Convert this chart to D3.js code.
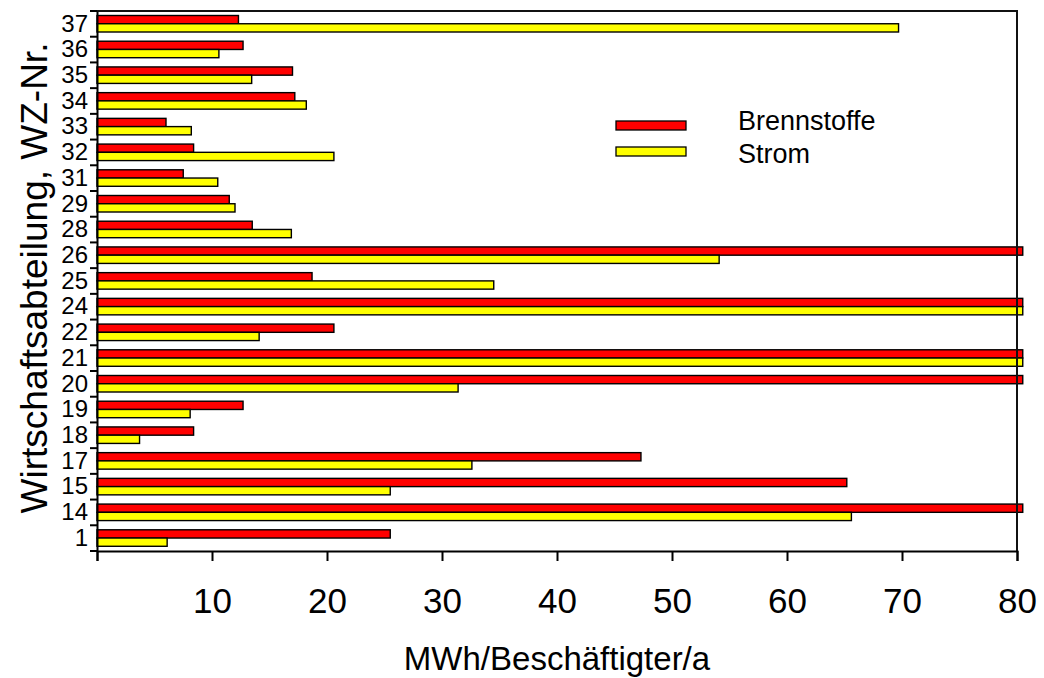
<!DOCTYPE html>
<html>
	<head>
		<meta charset="utf-8">
		<title>Energieverbrauch je Beschäftigten</title>
    <style>
      body{ margin:0; background:#fff; }
      svg{ display:block; font-family:"Liberation Sans", Arial, sans-serif; }
    </style>
	</head>
	<body>
    <script src="https://cdn.jsdelivr.net/npm/d3@7/dist/d3.min.js"></script>
    <script>
      //WZ-Nr. von unten nach oben
      var categories = ['1','14','15','17','18','19','20','21','22','24','25','26','28','29','31','32','33','34','35','36','37'];
      //Werte über 80 laufen über den Rahmen hinaus (abgeschnitten)
      var OFF = 80.5;
      var brennstoffe = [25.5, OFF, 65.2, 47.3, 8.4, 12.7, OFF, OFF, 20.6, OFF, 18.7, OFF, 13.5, 11.5, 7.5, 8.4, 6.0, 17.2, 17.0, 12.7, 12.3];
      var strom       = [6.1, 65.6, 25.5, 32.6, 3.7, 8.1, 31.4, OFF, 14.1, OFF, 34.5, 54.1, 16.9, 12.0, 10.5, 20.6, 8.2, 18.2, 13.45, 10.6, 69.7];
      var series = ['Brennstoffe', 'Strom'];
      var colors = ['#ff0000', '#ffff00'];
      var xTicks = [0, 10, 20, 30, 40, 50, 60, 70, 80];

      var W = 1044, H = 678;
      //Plotbereich (nicht "top" nennen, das ist window.top)
      var pLeft = 97, pRight = 1017, pTop = 11, pBottom = 551;

      var svg = d3.select('body').append('svg')
        .attr('width', W).attr('height', H);

      var x = d3.scaleLinear().domain([0, 80]).range([pLeft, pRight]);
      var y = d3.scaleBand().domain(categories.slice().reverse()).range([pTop, pBottom]);
      var ySub = d3.scaleBand().domain(series).range([4.5, 21]);

      //Balken
      var rows = categories.map(function(c, i){
        return {cat: c, vals: [brennstoffe[i], strom[i]]};
      });
      var g = svg.append('g');
      rows.forEach(function(r){
        series.forEach(function(s, j){
          g.append('rect')
            .attr('x', x(0))
            .attr('y', y(r.cat) + ySub(s))
            .attr('width', x(r.vals[j]) - x(0))
            .attr('height', ySub.bandwidth())
            .attr('fill', colors[j])
            .attr('stroke', '#000')
            .attr('stroke-width', 1.4);
        });
      });

      //Rahmen oben/rechts
      svg.append('path')
        .attr('d', 'M' + pLeft + ',' + pTop + 'H' + pRight + 'V' + pBottom)
        .attr('fill', 'none').attr('stroke', '#111').attr('stroke-width', 2);

      //x-Achse
      var xAxis = svg.append('g')
        .attr('transform', 'translate(0,' + pBottom + ')')
        .call(d3.axisBottom(x).tickValues(xTicks).tickSize(10).tickPadding(27)
          .tickFormat(function(d){ return d === 0 ? '' : d; }));
      xAxis.select('.domain').attr('stroke', '#000').attr('stroke-width', 2);
      xAxis.selectAll('.tick line').attr('stroke', '#000').attr('stroke-width', 2);
      xAxis.selectAll('text').attr('font-size', 35).attr('fill', '#000')
        .attr('font-family', '"Liberation Sans", Arial, sans-serif');

      //y-Achse
      var yAxis = svg.append('g')
        .attr('transform', 'translate(' + pLeft + ',0)')
        .call(d3.axisLeft(y).tickSize(0).tickPadding(9));
      yAxis.select('.domain').attr('stroke', '#000').attr('stroke-width', 2);
      yAxis.selectAll('text').attr('font-size', 24).attr('fill', '#000')
        .attr('font-family', '"Liberation Sans", Arial, sans-serif');
      //Striche an den Klassengrenzen
      var bounds = y.domain().map(function(c){ return y(c); }).concat([pBottom]);
      svg.selectAll('line.ytick').data(bounds).enter().append('line')
        .attr('class', 'ytick')
        .attr('x1', pLeft - 7).attr('x2', pLeft)
        .attr('y1', function(d){ return d; }).attr('y2', function(d){ return d; })
        .attr('stroke', '#000').attr('stroke-width', 2);

      //Achsentitel
      svg.append('text')
        .attr('x', (pLeft + pRight) / 2).attr('y', 670)
        .attr('text-anchor', 'middle').attr('font-size', 33)
        .text('MWh/Beschäftigter/a');
      svg.append('text')
        .attr('transform', 'translate(47,' + ((pTop + pBottom) / 2 - 3) + ') rotate(-90)')
        .attr('text-anchor', 'middle').attr('font-size', 37)
        .text('Wirtschaftsabteilung, WZ-Nr.');

      //Legende
      var legend = svg.append('g');
      series.forEach(function(s, j){
        legend.append('rect')
          .attr('x', 616).attr('y', 121 + j * 26)
          .attr('width', 70).attr('height', 9)
          .attr('fill', colors[j]).attr('stroke', '#000').attr('stroke-width', 1.3);
        legend.append('text')
          .attr('x', 738).attr('y', 130 + j * 33)
          .attr('font-size', 27)
          .text(s);
      });
    </script>
	</body>
</html>
